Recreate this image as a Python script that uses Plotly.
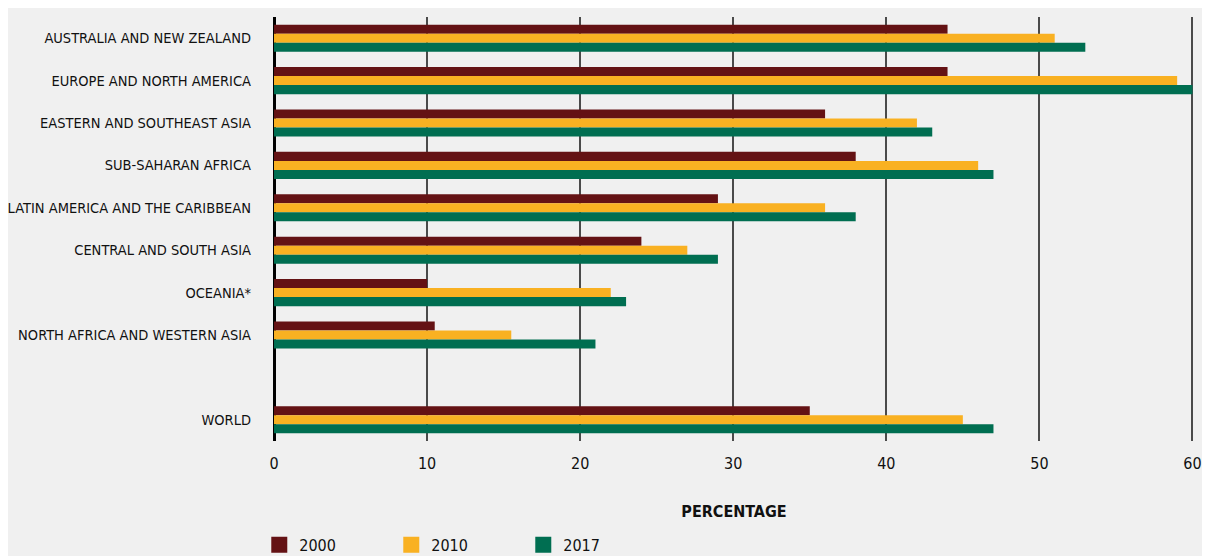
import plotly.graph_objects as go

# regions, top to bottom; the blank slot separates WORLD from the rest
regions = [
    "AUSTRALIA AND NEW ZEALAND",
    "EUROPE AND NORTH AMERICA",
    "EASTERN AND SOUTHEAST ASIA",
    "SUB-SAHARAN AFRICA",
    "LATIN AMERICA AND THE CARIBBEAN",
    "CENTRAL AND SOUTH ASIA",
    "OCEANIA*",
    "NORTH AFRICA AND WESTERN ASIA",
    "WORLD",
]
category_order = regions[:8] + [" "] + regions[8:]

years = ["2000", "2010", "2017"]
values_2000 = [44, 44, 36, 38, 29, 24, 10, 10.5, 35]
values_2010 = [51, 59, 42, 46, 36, 27, 22, 15.5, 45]
values_2017 = [53, 60, 43, 47, 38, 29, 23, 21, 47]
colors = ["#641214", "#f9b122", "#006e51"]

x_ticks = [0, 10, 20, 30, 40, 50, 60]

FONT = "DejaVu Sans Condensed, sans-serif"

fig = go.Figure()
for year, vals, col in zip(years, [values_2000, values_2010, values_2017], colors):
    fig.add_trace(go.Bar(y=regions, x=vals, orientation="h", marker_color=col,
                         marker_line_width=0, showlegend=False, name=year))
    # legend swatch only (bigger square than the default bar legend symbol)
    fig.add_trace(go.Scatter(x=[None], y=[None], mode="markers", name=year,
                             marker=dict(symbol="square", size=20, color=col)))

# the page body keeps an 8px margin, so the figure is sized to the visible area
fig.update_layout(
    width=1194, height=548,
    margin=dict(l=266, r=8, t=9, b=115, autoexpand=False),
    paper_bgcolor="#f0f0f0", plot_bgcolor="#f0f0f0",
    barmode="group", bargap=0.36, bargroupgap=0,
    font=dict(family=FONT, size=15, color="#111111"),
    legend=dict(orientation="h", x=-0.016, xanchor="left", y=-0.205, yanchor="top",
                entrywidth=87, entrywidthmode="pixels", itemsizing="trace",
                font=dict(size=16), bgcolor="rgba(0,0,0,0)"),
)
fig.update_xaxes(
    range=[0, 60.1], tickvals=x_ticks, showgrid=True, gridcolor="#4a4a4a", gridwidth=1.5,
    zeroline=True, zerolinecolor="#000000", zerolinewidth=3,
    ticklabelstandoff=11, tickfont=dict(size=16), automargin=False,
    ticklabeloverflow="allow",
    title=dict(text="<b>PERCENTAGE</b>", standoff=33, font=dict(size=16)),
    fixedrange=True,
)
fig.update_yaxes(
    type="category", categoryorder="array", categoryarray=category_order,
    autorange="reversed", showgrid=False, ticklabelstandoff=22, automargin=False,
    tickfont=dict(size=14.5), fixedrange=True,
)

fig.write_html("out.html")
